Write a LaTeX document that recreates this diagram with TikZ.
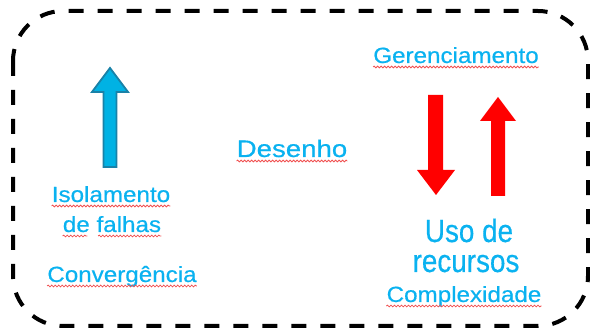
\documentclass[tikz,border=0pt]{standalone}
\usepackage{fontspec}
\setmainfont{Liberation Sans}
\newfontfamily\heavy[FakeBold=0.5]{Liberation Sans}
\usetikzlibrary{decorations.pathmorphing,calc}
\definecolor{txtblue}{RGB}{10,178,240}
\definecolor{tealfill}{RGB}{0,178,228}
\definecolor{tealline}{RGB}{25,130,168}
\definecolor{squigred}{RGB}{240,80,80}
\tikzset{
  frame/.style={line width=4pt, dash pattern=on 15pt off 14pt, rounded corners=50pt},
  lbl/.style={text=txtblue, inner sep=0pt, anchor=base, transform shape},
  small/.style={lbl, font=\heavy\fontsize{22}{26}\selectfont, xscale=1.1},
  mid/.style={lbl, font=\heavy\fontsize{24}{28}\selectfont, xscale=1.15},
  big/.style={lbl, font=\heavy\fontsize{32}{36}\selectfont, xscale=0.87},
  squig/.style={draw=squigred, line width=0.8pt, decorate,
    decoration={snake, segment length=3.5pt, amplitude=0.9pt}},
  tealarrow/.style={fill=tealfill, draw=tealline, line width=1.8pt, line join=miter},
  redarrow/.style={fill=red, draw=none}
}
\begin{document}
\begin{tikzpicture}[x=1pt,y=-1pt]
\useasboundingbox (0,0) rectangle (590,328);
% frame
\draw[frame] (13,11) rectangle (588,326);
% labels
\node[small] (ger) at (456,63) {Gerenciamento};
\node[mid] (des) at (292,157) {Desenho};
\node[small] (iso) at (111,202) {Isolamento};
\node[small] (fal) at (112,232) {de falhas};
\node[small] (con) at (122,282) {Convergência};
\node[big] (uso) at (469,242) {Uso de};
\node[big] (rec) at (466,272) {recursos};
\node[small] (com) at (464,302) {Complexidade};
% squiggles
\foreach \n in {ger,des,iso,con,com}{
  \draw[squig] ([yshift=-4pt]\n.base west) -- ([yshift=-4pt]\n.base east);
}
\draw[squig] ($([yshift=-4pt]fal.base west)$) -- ($([yshift=-4pt]fal.base west)!0.25!([yshift=-4pt]fal.base east)$);
\draw[squig] ($([yshift=-4pt]fal.base west)!0.36!([yshift=-4pt]fal.base east)$) -- ([yshift=-4pt]fal.base east);
% teal up arrow
\draw[tealarrow] (103.5,167) -- (103.5,92) -- (92,92) -- (110,68) -- (128,92) -- (116.5,92) -- (116.5,167) -- cycle;
% red down arrow
\fill[redarrow] (428,95) -- (443,95) -- (443,170) -- (455,170) -- (436,195) -- (417,170) -- (428,170) -- cycle;
% red up arrow
\fill[redarrow] (491,196) -- (491,121) -- (480,121) -- (498,97) -- (516,121) -- (505,121) -- (505,196) -- cycle;
\end{tikzpicture}
\end{document}
